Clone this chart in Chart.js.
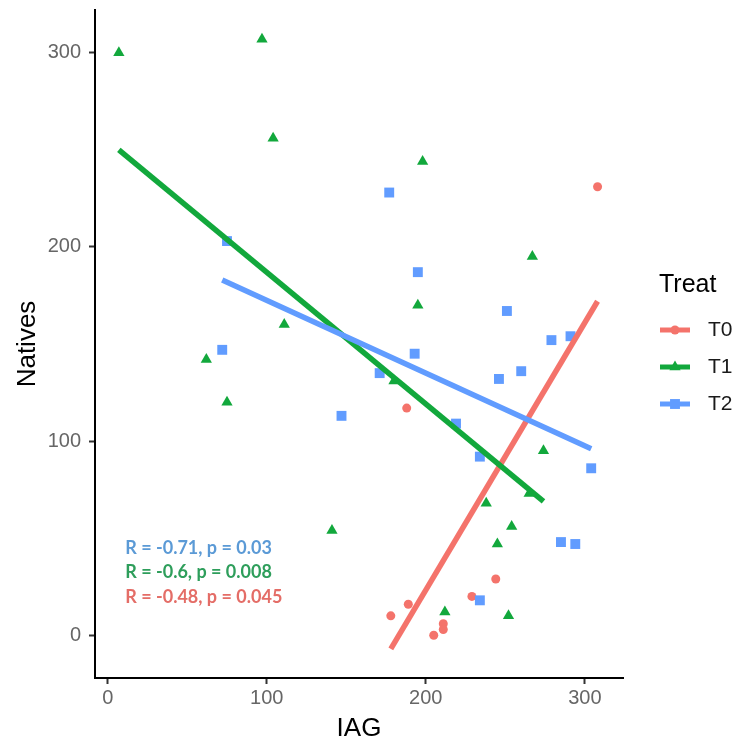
<!DOCTYPE html>
<html>
<head>
<meta charset="utf-8">
<script src="https://cdn.jsdelivr.net/npm/chart.js@4/dist/chart.umd.min.js"></script>
<style>
  body { margin: 0; background: #fff; }
</style>
</head>
<body>
<canvas id="chart" width="739" height="744"></canvas>
<script>
// groups and colours
const treats = ["T0", "T1", "T2"];
const colors = ["#F4736B", "#12A83C", "#619CFF"];
const shapes = ["circle", "triangle", "rect"];

// IAG / Natives
const t0X = [188, 308, 244, 229, 189, 178, 211, 211, 205];
const t0Y = [117, 231, 29, 20, 16, 10, 6, 3, 0];
const t1X = [7, 97, 104, 111, 62, 75, 141, 198, 195, 267, 180, 274, 265, 238, 254, 245, 212, 252];
const t1Y = [300, 307, 256, 160, 142, 120, 54, 244, 170, 195, 131, 95, 73, 68, 56, 47, 12, 10];
const t2X = [72, 75, 147, 177, 195, 251, 279, 291, 193, 260, 246, 171, 219, 234, 304, 285, 294, 234];
const t2Y = [147, 203, 113, 228, 187, 167, 152, 154, 145, 136, 132, 135, 109, 92, 86, 48, 47, 18];

// lm fit end points for each group
const fitX = [[178, 308], [7, 274], [72, 304]];
const fitY = [[-7, 172], [250, 69], [183, 96]];

const statText = ["R = -0.71, p = 0.03", "R = -0.6, p = 0.008", "R = -0.48, p = 0.045"];
const statColors = ["#5B9AD6", "#2E9E5B", "#E46D67"];

const xTicks = [0, 100, 200, 300];
const yTicks = [0, 100, 200, 300];

const FONT = "'Liberation Sans', Arial, sans-serif";
const pointsX = [t0X, t1X, t2X];
const pointsY = [t0Y, t1Y, t2Y];
const radius = [4.5, 6.5, 7];

const datasets = [];
treats.forEach((t, i) => {
  datasets.push({
    label: t,
    type: "scatter",
    data: pointsX[i].map((x, j) => ({ x: x, y: pointsY[i][j] })),
    pointStyle: shapes[i],
    pointRadius: radius[i],
    pointBackgroundColor: colors[i],
    pointBorderWidth: 0,
    order: 5 - i
  });
  datasets.push({
    label: t + " fit",
    type: "line",
    data: fitX[i].map((x, j) => ({ x: x, y: fitY[i][j] })),
    borderColor: colors[i],
    borderWidth: 5.5,
    pointRadius: 0,
    fill: false,
    order: 2 - i
  });
});

// R / p text in the lower left
const statPlugin = {
  id: "statText",
  afterDatasetsDraw(chart) {
    const c = chart.ctx;
    const xs = chart.scales.x, ys = chart.scales.y;
    c.save();
    c.font = "bold 18px Lato, sans-serif";
    c.textBaseline = "middle";
    statText.forEach((s, i) => {
      c.fillStyle = statColors[i];
      c.fillText(s, xs.getPixelForValue(11), ys.getPixelForValue(45) + i * 24.5);
    });
    c.restore();
  }
};

// ggplot style legend on the right
const legendPlugin = {
  id: "treatLegend",
  afterDraw(chart) {
    const c = chart.ctx;
    const left = chart.chartArea.right + 36;
    c.save();
    c.fillStyle = "#000";
    c.textBaseline = "middle";
    c.font = "25px " + FONT;
    c.fillText("Treat", left, 285);
    c.font = "21px " + FONT;
    treats.forEach((t, i) => {
      const y = 330 + i * 37;
      c.strokeStyle = colors[i];
      c.lineWidth = 5;
      c.beginPath();
      c.moveTo(left + 1, y);
      c.lineTo(left + 31, y);
      c.stroke();
      c.fillStyle = colors[i];
      Chart.helpers.drawPoint(c, { pointStyle: shapes[i], radius: radius[i], rotation: 0, borderWidth: 0 }, left + 16, y);
      c.fillStyle = "#1a1a1a";
      c.fillText(t, left + 49, y);
    });
    c.restore();
  }
};

new Chart(document.getElementById("chart"), {
  type: "scatter",
  data: { datasets },
  options: {
    responsive: false,
    animation: false,
    layout: { padding: { top: 10, right: 116, left: 0, bottom: 0 } },
    plugins: { legend: { display: false }, tooltip: { enabled: false } },
    scales: {
      x: {
        type: "linear",
        min: -8,
        max: 324,
        afterBuildTicks: s => { s.ticks = xTicks.map(v => ({ value: v })); },
        afterFit: s => { s.height = 66; },
        grid: { drawOnChartArea: false, drawTicks: true, tickLength: 6, tickWidth: 2, tickColor: "#333" },
        border: { color: "#000", width: 2 },
        ticks: { color: "#666", font: { size: 20, family: FONT }, padding: 2 },
        title: { display: true, text: "IAG", color: "#000", font: { size: 26, family: FONT }, padding: { top: 0, bottom: 0 } }
      },
      y: {
        type: "linear",
        min: -22,
        max: 322,
        afterBuildTicks: s => { s.ticks = yTicks.map(v => ({ value: v })); },
        afterFit: s => { s.width = 95; s.paddingTop = 0; s.paddingBottom = 0; },
        grid: { drawOnChartArea: false, drawTicks: true, tickLength: 6, tickWidth: 2, tickColor: "#333" },
        border: { color: "#000", width: 2 },
        ticks: { color: "#666", font: { size: 20, family: FONT }, padding: 8 },
        title: { display: true, text: "Natives", color: "#000", font: { size: 26, family: FONT }, padding: { top: 12, bottom: 0 } }
      }
    }
  },
  plugins: [statPlugin, legendPlugin]
});
</script>
</body>
</html>
